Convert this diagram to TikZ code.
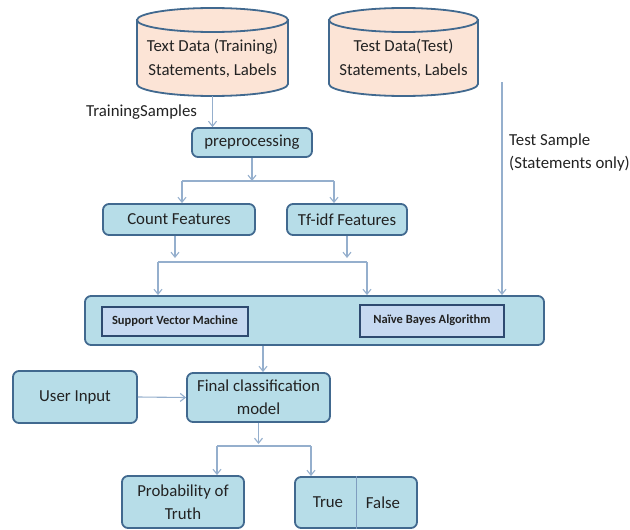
\documentclass[tikz,border=0pt]{standalone}
\usepackage{fontspec}
\setmainfont{Carlito}
\usetikzlibrary{arrows.meta}
\definecolor{boxfill}{HTML}{B7DDE8}
\definecolor{boxline}{HTML}{41698F}
\definecolor{cylfill}{HTML}{FCE4D6}
\definecolor{innerfill}{HTML}{C6D9F1}
\definecolor{innerline}{HTML}{2E4A70}
\definecolor{arrowc}{HTML}{95AFCD}
\definecolor{divc}{HTML}{7F9DBF}
\definecolor{txt}{HTML}{222222}
\begin{document}
\begin{tikzpicture}[x=1pt,y=1pt,
 every node/.style={font=\fontsize{16.8}{23}\selectfont, text=txt},
 bluebox/.style={draw=boxline, fill=boxfill, line width=1.8pt, rounded corners=6pt, inner sep=0pt, align=center},
 innerbox/.style={draw=innerline, fill=innerfill, line width=2pt, inner sep=0pt, font=\fontsize{12.5}{14}\selectfont\bfseries},
 cylstyle/.style={draw=boxline, fill=cylfill, line width=1.8pt},
 arr/.style={draw=arrowc, line width=1.1pt, -{Straight Barb[length=5pt,width=8pt]}},
 ln/.style={draw=arrowc, line width=1.1pt},
 lbl/.style={align=left, inner sep=0pt},
 cyltext/.style={align=center, inner sep=0pt, font=\fontsize{16.8}{24}\selectfont}]
\useasboundingbox (0,0) rectangle (630,-530);

% cylinders
\path[cylstyle] (137,-20) -- (137,-84) arc[start angle=180,end angle=360,x radius=75.5pt,y radius=12pt] -- (288,-20) -- cycle;
\path[cylstyle] (212.5,-20) ellipse [x radius=75.5pt, y radius=12pt];
\node[cyltext] (cyl1) at (212.5,-58) {Text Data (Training)\\Statements, Labels};

\path[cylstyle] (329,-20) -- (329,-84) arc[start angle=180,end angle=360,x radius=74.5pt,y radius=12pt] -- (478,-20) -- cycle;
\path[cylstyle] (403.5,-20) ellipse [x radius=74.5pt, y radius=12pt];
\node[cyltext] (cyl2) at (403.5,-58) {Test Data(Test)\\Statements, Labels};

\coordinate (cyl1b) at (212.5,-96);
\coordinate (cyl2b) at (502,-82);

% labels
\node[lbl, anchor=west] (trs) at (86,-112) {TrainingSamples};
\node[lbl, anchor=north west] (tsl) at (509,-134) {Test Sample\\(Statements only)};

% boxes
\node[bluebox, minimum width=120pt, minimum height=29pt] (pre) at (252,-142.5) {preprocessing};
\node[bluebox, minimum width=152pt, minimum height=31pt] (count) at (179,-219.5) {Count Features};
\node[bluebox, minimum width=120pt, minimum height=31pt] (tfidf) at (347,-219.5) {Tf-idf Features};
\node[bluebox, minimum width=459pt, minimum height=49pt] (big) at (314.5,-320.5) {};
\node[innerbox, minimum width=146pt, minimum height=29pt] (svm) at (175,-321.5) {Support Vector Machine};
\node[innerbox, minimum width=144pt, minimum height=32pt] (nb) at (432,-320.5) {Naïve Bayes Algorithm};
\node[bluebox, minimum width=124pt, minimum height=52pt] (user) at (75,-397) {User Input};
\node[bluebox, minimum width=143pt, minimum height=49pt] (final) at (258.5,-397.5) {Final classification\\model};
\node[bluebox, minimum width=122pt, minimum height=52pt] (prob) at (183,-502) {Probability of\\Truth};
\node[bluebox, minimum width=122pt, minimum height=51pt] (tf) at (356,-502.5) {};
\draw[divc, line width=1pt] (tf.north) -- (tf.south);
\node (tru) at (328,-502.5) {True};
\node (fls) at (383,-502.5) {False};

% connectors
\draw[arr] (cyl1b) -- (cyl1b |- pre.north);
\coordinate (j1) at (252,-181);
\coordinate (j1l) at (182,-181);
\coordinate (j1r) at (334,-181);
\draw[arr] (pre.south) -- (j1);
\draw[ln] (j1l) -- (j1r);
\draw[arr] (j1l) -- (j1l |- count.north);
\draw[arr] (j1r) -- (j1r |- tfidf.north);

\coordinate (c2) at (175,-258);
\coordinate (t2) at (347,-258);
\draw[arr] (c2 |- count.south) -- (c2);
\draw[arr] (t2 |- tfidf.south) -- (t2);
\coordinate (j2l) at (158,-262);
\coordinate (j2r) at (367,-262);
\draw[ln] (j2l) -- (j2r);
\draw[arr] (j2l) -- (j2l |- big.north);
\draw[arr] (j2r) -- (j2r |- big.north);
\draw[arr] (cyl2b) -- (cyl2b |- big.north);

\coordinate (b3) at (263,-300);
\draw[arr] (b3 |- big.south) -- (b3 |- final.north);
\draw[arr] (user.east) -- (final.west);

\coordinate (j3) at (258.5,-444);
\coordinate (j3l) at (217,-446);
\coordinate (j3r) at (311,-446);
\draw[arr] (final.south) -- (j3);
\draw[ln] (j3l) -- (j3r);
\draw[arr] (j3l) -- (j3l |- prob.north);
\draw[arr] (j3r) -- (j3r |- tf.north);
\end{tikzpicture}
\end{document}
